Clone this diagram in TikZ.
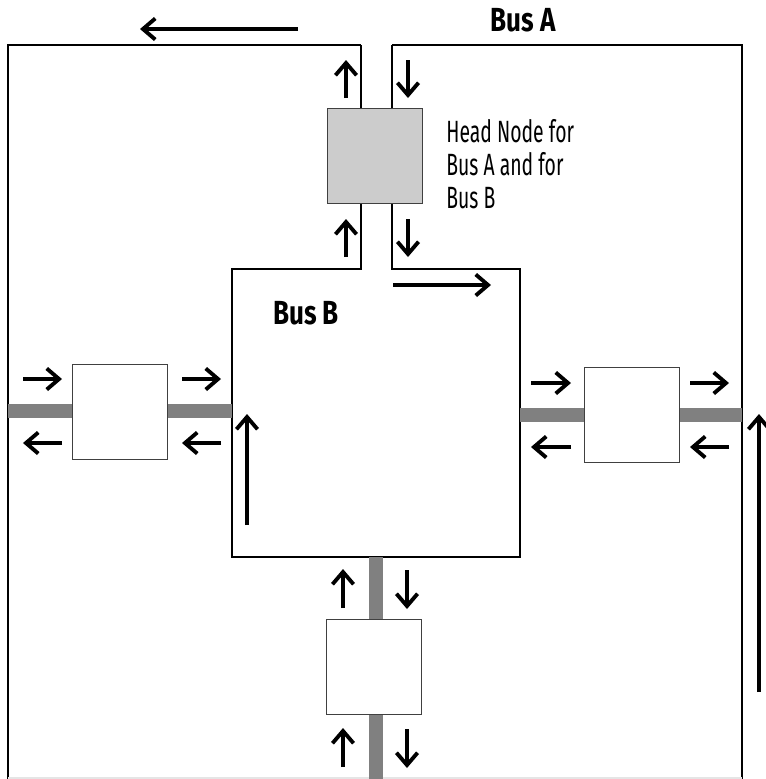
\documentclass[tikz,border=0pt]{standalone}
\usepackage{fontspec}
\setmainfont{Fira Sans}
\newfontfamily\labelfont[FakeStretch=0.63]{Fira Sans}
\newfontfamily\namefont[FakeStretch=0.78]{Fira Sans}
\usetikzlibrary{arrows.meta}

\tikzset{
  bus/.style={line width=1pt, black},
  stub/.style={line width=8pt, black!50},
  flow/.style={line width=2.2pt, -{Straight Barb[length=7pt, width=12pt, line width=2.2pt]}},
  station/.style={draw=black!75, line width=0.7pt, fill=white,
    minimum width=1.9cm, minimum height=1.9cm, inner sep=0pt},
  headstation/.style={station, fill=gray!40},
  busname/.style={font=\namefont\fontsize{19}{22}\selectfont\bfseries},
}

\begin{document}
\begin{tikzpicture}[x=0.02cm, y=-0.02cm]
  \useasboundingbox (0,0) rectangle (766,779);

  % ==== BUS A AND BUS B (one folded line) ====
  \coordinate (slotL) at (361,45);
  \coordinate (slotR) at (392,45);
  \draw[bus] (slotL) -- (8,45) -- (8,779);
  \draw[bus] (slotR) -- (742,45) -- (742,779);
  \draw[bus] (slotL) -- (361,269) -- (232,269) -- (232,557) -- (520,557)
             -- (520,269) -- (392,269) -- (slotR);
  \draw[gray!20, line width=1pt] (8,778) -- (742,778);

  % ==== STATION STUBS ====
  \draw[stub] (8,411) -- (232,411);
  \draw[stub] (520,415) -- (742,415);
  \draw[stub] (376,557) -- (376,779);

  % ==== STATIONS ====
  \node[headstation] (head) at (375,156) {};
  \node[station] (westst) at (120,412) {};
  \node[station] (eastst) at (632,415) {};
  \node[station] (southst) at (374,667) {};

  % ==== LABELS ====
  \node[busname] (busA) at (523,20) {Bus A};
  \node[busname] (busB) at (306,313) {Bus B};
  \node[font=\labelfont\fontsize{17.5}{18.9}\selectfont, align=left, anchor=north west,
        inner sep=0pt] (headtxt) at (446,119)
        {Head Node for\\Bus A and for\\Bus B};

  % ==== DIRECTION ARROWS ====
  \draw[flow] (298,29) -- (140,29);
  \draw[flow] (759,692) -- (759,414);
  \draw[flow] (247,525) -- (247,414);
  \draw[flow] (393,285) -- (491,285);
  % head node
  \draw[flow] (346,98) -- (346,60);
  \draw[flow] (408,60) -- (408,98);
  \draw[flow] (346,257) -- (346,219);
  \draw[flow] (408,219) -- (408,257);
  % west station
  \draw[flow] (23,379) -- (62,379);
  \draw[flow] (62,443) -- (23,443);
  \draw[flow] (182,379) -- (221,379);
  \draw[flow] (221,443) -- (182,443);
  % east station
  \draw[flow] (531,383) -- (571,383);
  \draw[flow] (571,447) -- (531,447);
  \draw[flow] (690,383) -- (729,383);
  \draw[flow] (729,447) -- (690,447);
  % south station
  \draw[flow] (343,608) -- (343,569);
  \draw[flow] (407,570) -- (407,609);
  \draw[flow] (343,767) -- (343,728);
  \draw[flow] (407,729) -- (407,768);
\end{tikzpicture}
\end{document}
